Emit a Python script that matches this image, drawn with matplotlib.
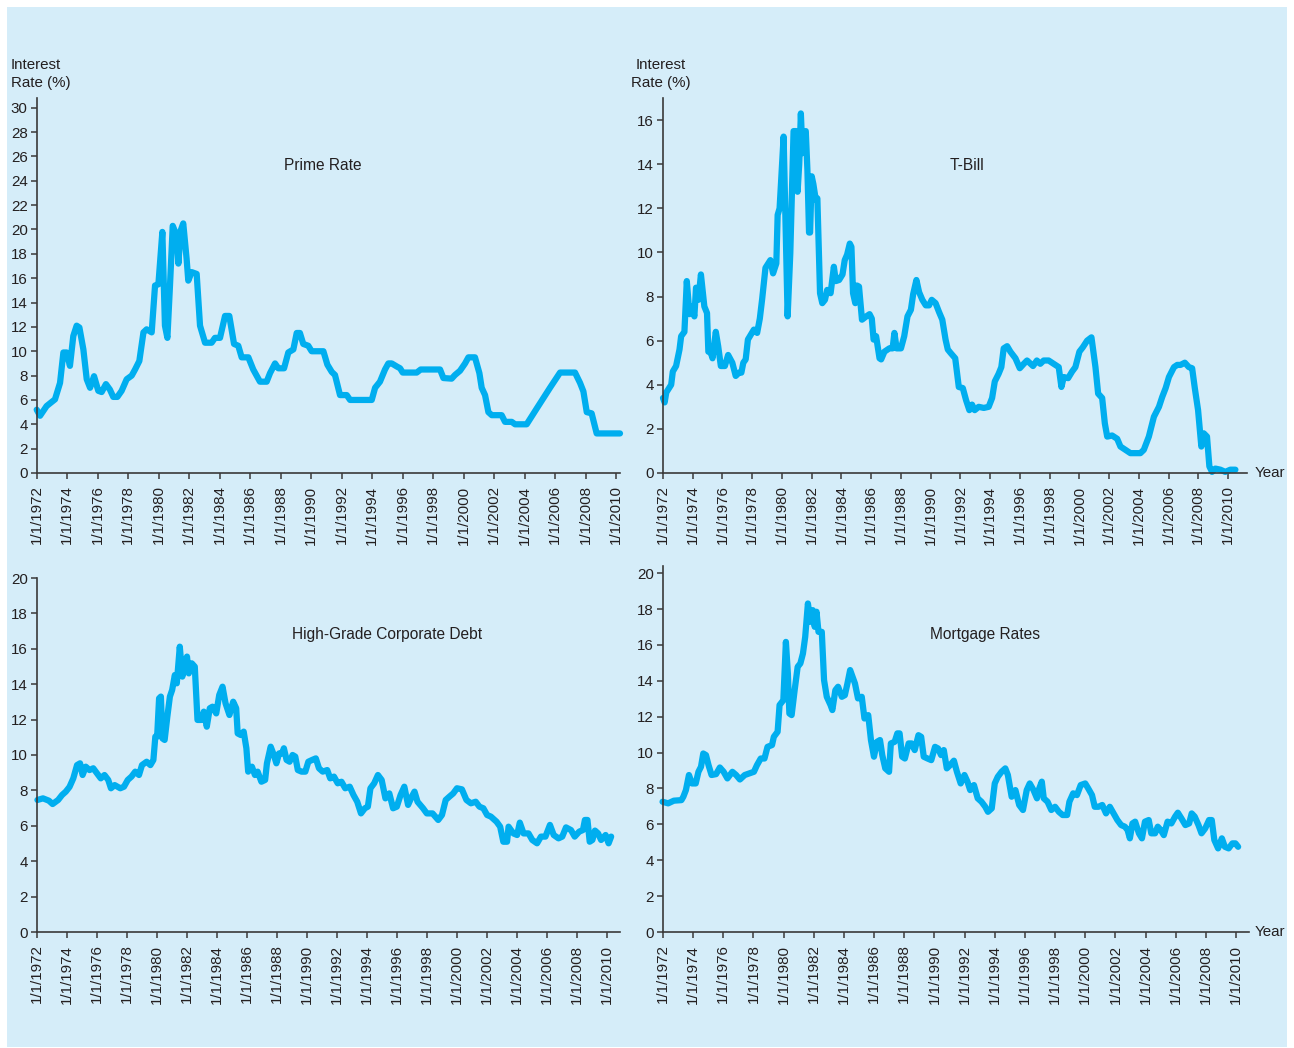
import matplotlib
matplotlib.use('Agg')
import matplotlib.pyplot as plt
from matplotlib.patches import Rectangle

plt.rcParams['font.family'] = ['Liberation Sans', 'DejaVu Sans']

# ---------------- data ----------------
prime_years = [1972.0, 1972.22, 1972.65, 1973.2, 1973.53, 1973.75, 1973.96, 1974.18, 1974.4, 1974.62,
               1974.8, 1975.06, 1975.28, 1975.5, 1975.76, 1976.04, 1976.26, 1976.54, 1976.8, 1977.02,
               1977.29, 1977.57, 1977.9, 1978.23, 1978.45, 1978.73, 1979.0, 1979.21, 1979.54, 1979.76,
               1979.98, 1980.24, 1980.41, 1980.57, 1980.74, 1980.92, 1981.18, 1981.29, 1981.44, 1981.61,
               1981.83, 1981.94, 1982.16, 1982.49, 1982.71, 1983.04, 1983.47, 1983.69, 1984.02, 1984.35,
               1984.63, 1984.94, 1985.22, 1985.44, 1985.88, 1986.2, 1986.64, 1987.08, 1987.3, 1987.63,
               1987.84, 1988.22, 1988.5, 1988.83, 1989.05, 1989.26, 1989.48, 1989.81, 1990.03, 1990.8,
               1991.06, 1991.35, 1991.56, 1991.89, 1992.33, 1992.55, 1993.97, 1994.19, 1994.51, 1994.84,
               1995.06, 1995.28, 1995.61, 1995.83, 1996.0, 1996.92, 1997.18, 1998.45, 1998.67, 1999.21,
               1999.43, 1999.76, 2000.09, 2000.31, 2000.74, 2001.03, 2001.18, 2001.4, 2001.62, 2001.84,
               2002.49, 2002.71, 2003.15, 2003.37, 2004.13, 2004.79, 2005.66, 2006.32, 2007.3, 2007.63,
               2007.85, 2008.07, 2008.39, 2008.72, 2010.25]
prime_rates = [5.2, 4.7, 5.5, 6.05, 7.4, 9.9, 9.9, 8.8, 11.25, 12.1,
               11.95, 10.15, 7.7, 7.0, 7.95, 6.75, 6.65, 7.3, 6.85, 6.25,
               6.25, 6.75, 7.7, 8.0, 8.5, 9.2, 11.55, 11.8, 11.55, 15.4,
               15.5, 19.8, 12.1, 11.1, 15.4, 20.3, 19.5, 17.2, 19.9, 20.5,
               17.6, 15.8, 16.5, 16.35, 12.1, 10.7, 10.7, 11.1, 11.1, 12.9,
               12.9, 10.6, 10.45, 9.5, 9.5, 8.5, 7.5, 7.5, 8.2, 9.0,
               8.6, 8.6, 9.9, 10.15, 11.5, 11.5, 10.6, 10.45, 10.0, 10.0,
               8.9, 8.3, 8.05, 6.4, 6.4, 6.0, 6.0, 7.0, 7.5, 8.5,
               9.0, 9.0, 8.75, 8.6, 8.25, 8.25, 8.5, 8.5, 7.8, 7.75,
               8.05, 8.4, 9.0, 9.5, 9.5, 8.2, 7.0, 6.4, 5.0, 4.75,
               4.75, 4.2, 4.2, 4.0, 4.0, 5.3, 7.0, 8.25, 8.25, 7.4,
               6.7, 5.0, 4.9, 3.25, 3.25]

tbill_years = [1972.0, 1972.11, 1972.22, 1972.55, 1972.66, 1972.88, 1973.11, 1973.22, 1973.44, 1973.6,
               1973.78, 1973.93, 1974.11, 1974.22, 1974.38, 1974.55, 1974.78, 1974.96, 1975.05, 1975.22,
               1975.33, 1975.55, 1975.71, 1975.89, 1976.16, 1976.38, 1976.66, 1976.89, 1977.11, 1977.27,
               1977.4, 1977.56, 1977.71, 1977.89, 1978.11, 1978.33, 1978.51, 1978.67, 1978.89, 1979.22,
               1979.4, 1979.62, 1979.71, 1979.84, 1980.11, 1980.38, 1980.56, 1980.78, 1980.96, 1981.05,
               1981.16, 1981.27, 1981.38, 1981.49, 1981.6, 1981.71, 1981.82, 1981.89, 1982.0, 1982.11,
               1982.27, 1982.38, 1982.56, 1982.71, 1982.89, 1983.04, 1983.27, 1983.49, 1983.62, 1983.84,
               1984.07, 1984.22, 1984.38, 1984.56, 1984.67, 1984.78, 1984.93, 1985.04, 1985.18, 1985.38,
               1985.67, 1985.89, 1986.04, 1986.16, 1986.33, 1986.56, 1986.67, 1986.89, 1987.22, 1987.44,
               1987.56, 1987.71, 1988.0, 1988.22, 1988.44, 1988.67, 1988.82, 1989.04, 1989.22, 1989.44,
               1989.67, 1989.89, 1990.07, 1990.33, 1990.56, 1990.78, 1991.0, 1991.15, 1991.33, 1991.65,
               1991.89, 1992.16, 1992.38, 1992.6, 1992.78, 1992.96, 1993.23, 1993.57, 1993.9, 1994.13,
               1994.31, 1994.57, 1994.75, 1994.91, 1995.14, 1995.36, 1995.7, 1995.99, 1996.26, 1996.48,
               1996.88, 1997.14, 1997.37, 1997.6, 1997.93, 1998.27, 1998.61, 1998.79, 1998.95, 1999.24,
               1999.51, 1999.73, 2000.0, 2000.23, 2000.52, 2000.81, 2001.08, 2001.26, 2001.53, 2001.71,
               2001.87, 2002.2, 2002.54, 2002.76, 2003.1, 2003.43, 2004.1, 2004.33, 2004.67, 2005.01,
               2005.35, 2005.57, 2005.8, 2006.02, 2006.36, 2006.58, 2006.8, 2007.09, 2007.36, 2007.58,
               2007.76, 2007.98, 2008.2, 2008.36, 2008.58, 2008.74, 2008.92, 2009.14, 2009.48, 2009.81,
               2010.15, 2010.49]
tbill_rates = [3.4, 3.2, 3.65, 4.0, 4.6, 4.85, 5.6, 6.2, 6.4, 8.7,
               7.2, 7.55, 7.1, 8.4, 7.85, 9.0, 7.55, 7.25, 5.5, 5.45,
               5.2, 6.4, 5.75, 4.85, 4.85, 5.35, 5.0, 4.4, 4.55, 4.55,
               5.0, 5.15, 6.05, 6.25, 6.5, 6.35, 7.0, 7.9, 9.3, 9.65,
               9.05, 9.5, 11.7, 12.0, 15.25, 7.1, 9.97, 15.5, 15.5, 12.75,
               14.0, 16.3, 14.5, 15.4, 15.5, 13.75, 10.9, 10.9, 13.45, 13.1,
               12.4, 12.45, 8.15, 7.7, 7.85, 8.3, 8.15, 9.35, 8.7, 8.75,
               9.0, 9.65, 9.9, 10.4, 10.25, 8.15, 7.7, 8.5, 8.45, 6.95,
               7.1, 7.2, 7.0, 6.05, 6.2, 5.2, 5.15, 5.5, 5.65, 5.65,
               6.35, 5.65, 5.65, 6.2, 7.1, 7.4, 8.1, 8.75, 8.2, 7.85,
               7.6, 7.6, 7.85, 7.7, 7.3, 6.95, 6.05, 5.6, 5.45, 5.2,
               3.9, 3.85, 3.3, 2.85, 3.1, 2.85, 3.0, 2.95, 3.0, 3.4,
               4.15, 4.5, 4.8, 5.65, 5.75, 5.5, 5.2, 4.75, 4.95, 5.1,
               4.85, 5.1, 4.95, 5.1, 5.1, 4.95, 4.8, 3.9, 4.35, 4.3,
               4.6, 4.8, 5.5, 5.7, 6.0, 6.15, 4.8, 3.6, 3.4, 2.25,
               1.65, 1.7, 1.55, 1.2, 1.05, 0.9, 0.9, 1.05, 1.65, 2.55,
               3.0, 3.45, 3.85, 4.35, 4.8, 4.9, 4.9, 5.0, 4.8, 4.75,
               3.85, 2.85, 1.2, 1.8, 1.65, 0.3, 0.05, 0.2, 0.15, 0.05,
               0.15, 0.15]

corp_years = [1972.03, 1972.4, 1972.79, 1973.04, 1973.41, 1973.67, 1973.92, 1974.17, 1974.42, 1974.67,
              1974.87, 1975.04, 1975.25, 1975.5, 1975.75, 1976.0, 1976.25, 1976.5, 1976.75, 1976.93,
              1977.18, 1977.55, 1977.8, 1978.05, 1978.3, 1978.55, 1978.8, 1979.0, 1979.31, 1979.56,
              1979.76, 1979.89, 1980.01, 1980.14, 1980.26, 1980.36, 1980.51, 1980.69, 1980.86, 1981.01,
              1981.19, 1981.32, 1981.52, 1981.69, 1981.82, 1982.0, 1982.12, 1982.32, 1982.52, 1982.7,
              1982.95, 1983.12, 1983.32, 1983.52, 1983.7, 1983.95, 1984.15, 1984.37, 1984.57, 1984.83,
              1985.08, 1985.28, 1985.38, 1985.58, 1985.78, 1985.96, 1986.08, 1986.33, 1986.53, 1986.71,
              1986.96, 1987.21, 1987.33, 1987.58, 1987.79, 1987.96, 1988.14, 1988.34, 1988.46, 1988.64,
              1988.84, 1989.04, 1989.22, 1989.39, 1989.64, 1989.89, 1990.09, 1990.34, 1990.59, 1990.8,
              1991.05, 1991.35, 1991.55, 1991.8, 1992.05, 1992.3, 1992.55, 1992.85, 1993.1, 1993.35,
              1993.6, 1993.86, 1994.06, 1994.23, 1994.48, 1994.73, 1994.98, 1995.23, 1995.49, 1995.74,
              1995.99, 1996.24, 1996.49, 1996.74, 1996.99, 1997.17, 1997.37, 1997.74, 1997.99, 1998.37,
              1998.75, 1999.0, 1999.25, 1999.5, 1999.75, 2000.0, 2000.33, 2000.63, 2000.93, 2001.25,
              2001.5, 2001.76, 2002.01, 2002.26, 2002.64, 2002.88, 2003.09, 2003.34, 2003.44, 2003.76,
              2004.01, 2004.19, 2004.44, 2004.77, 2005.02, 2005.34, 2005.6, 2005.9, 2006.2, 2006.45,
              2006.77, 2007.02, 2007.27, 2007.6, 2007.85, 2008.15, 2008.4, 2008.53, 2008.7, 2008.85,
              2009.03, 2009.2, 2009.41, 2009.61, 2009.91, 2010.11, 2010.28]
corp_rates = [7.46, 7.55, 7.42, 7.23, 7.46, 7.74, 7.93, 8.2, 8.68, 9.43,
              9.53, 8.87, 9.34, 9.15, 9.25, 8.96, 8.68, 8.87, 8.59, 8.12,
              8.3, 8.12, 8.21, 8.59, 8.78, 9.06, 8.87, 9.43, 9.62, 9.43,
              9.72, 11.04, 11.04, 13.2, 13.3, 10.94, 10.85, 12.17, 13.3, 13.67,
              14.52, 14.05, 16.12, 14.43, 14.99, 15.56, 14.61, 15.18, 14.99, 11.98,
              11.98, 12.45, 11.6, 12.64, 12.73, 12.35, 13.39, 13.86, 12.92, 12.26,
              13.01, 12.64, 11.22, 11.13, 11.32, 10.38, 9.06, 9.34, 8.87, 9.06,
              8.49, 8.59, 9.53, 10.47, 10.0, 9.53, 10.09, 10.09, 10.38, 9.72,
              9.62, 10.0, 9.91, 9.15, 9.06, 9.06, 9.62, 9.72, 9.81, 9.25,
              9.06, 9.15, 8.68, 8.78, 8.4, 8.49, 8.12, 8.21, 7.74, 7.36,
              6.7, 6.99, 7.08, 8.12, 8.4, 8.87, 8.59, 7.55, 7.83, 6.99,
              7.08, 7.74, 8.21, 7.18, 7.65, 7.93, 7.36, 6.99, 6.7, 6.7,
              6.33, 6.61, 7.46, 7.65, 7.83, 8.12, 8.06, 7.46, 7.27, 7.36,
              7.08, 6.99, 6.61, 6.52, 6.23, 5.95, 5.1, 5.1, 5.95, 5.57,
              5.48, 6.18, 5.57, 5.57, 5.2, 5.01, 5.39, 5.39, 6.05, 5.48,
              5.29, 5.39, 5.91, 5.76, 5.39, 5.67, 5.76, 6.33, 6.33, 5.1,
              5.2, 5.73, 5.57, 5.2, 5.48, 5.01, 5.39]

mort_years = [1971.97, 1972.34, 1972.72, 1973.22, 1973.35, 1973.52, 1973.72, 1973.92, 1974.17, 1974.35,
              1974.52, 1974.67, 1974.85, 1975.02, 1975.22, 1975.52, 1975.77, 1976.02, 1976.27, 1976.6,
              1976.85, 1977.1, 1977.42, 1977.73, 1978.03, 1978.23, 1978.48, 1978.73, 1978.93, 1979.23,
              1979.35, 1979.6, 1979.73, 1979.98, 1980.15, 1980.28, 1980.38, 1980.53, 1980.73, 1980.93,
              1981.11, 1981.28, 1981.43, 1981.61, 1981.78, 1981.93, 1982.06, 1982.18, 1982.31, 1982.53,
              1982.68, 1982.86, 1983.11, 1983.23, 1983.43, 1983.61, 1983.86, 1984.06, 1984.23, 1984.41,
              1984.53, 1984.73, 1984.93, 1985.18, 1985.36, 1985.61, 1985.79, 1985.99, 1986.19, 1986.39,
              1986.54, 1986.74, 1986.99, 1987.11, 1987.36, 1987.54, 1987.69, 1987.86, 1988.04, 1988.29,
              1988.49, 1988.69, 1988.94, 1989.12, 1989.29, 1989.54, 1989.79, 1990.04, 1990.24, 1990.44,
              1990.62, 1990.82, 1991.04, 1991.29, 1991.49, 1991.74, 1991.99, 1992.19, 1992.37, 1992.62,
              1992.87, 1993.12, 1993.37, 1993.55, 1993.8, 1994.0, 1994.2, 1994.45, 1994.7, 1994.87,
              1995.12, 1995.37, 1995.62, 1995.87, 1996.12, 1996.32, 1996.57, 1996.8, 1996.95, 1997.12,
              1997.25, 1997.5, 1997.75, 1998.0, 1998.25, 1998.5, 1998.8, 1998.95, 1999.2, 1999.45,
              1999.7, 2000.0, 2000.2, 2000.45, 2000.63, 2000.88, 2001.13, 2001.38, 2001.63, 2001.88,
              2002.13, 2002.38, 2002.63, 2002.81, 2002.96, 2003.13, 2003.31, 2003.56, 2003.76, 2003.96,
              2004.21, 2004.38, 2004.63, 2004.81, 2005.01, 2005.21, 2005.46, 2005.71, 2005.96, 2006.14,
              2006.38, 2006.64, 2006.89, 2007.06, 2007.26, 2007.51, 2007.71, 2007.96, 2008.21, 2008.39,
              2008.56, 2008.81, 2009.06, 2009.26, 2009.51, 2009.76, 2009.96, 2010.14]
mort_rates = [7.26, 7.17, 7.32, 7.35, 7.54, 7.91, 8.75, 8.28, 8.28, 8.93,
              9.21, 9.95, 9.86, 9.3, 8.75, 8.8, 9.17, 8.93, 8.56, 8.93,
              8.75, 8.5, 8.75, 8.84, 8.93, 9.3, 9.67, 9.67, 10.32, 10.42,
              10.88, 11.16, 12.65, 12.92, 16.17, 14.41, 12.18, 12.09, 13.48, 14.78,
              14.97, 15.52, 16.45, 18.31, 17.29, 17.94, 17.01, 17.85, 16.73, 16.73,
              14.04, 13.11, 12.65, 12.37, 13.48, 13.67, 13.11, 13.2, 13.85, 14.6,
              14.32, 13.85, 13.02, 13.11, 11.9, 12.09, 10.7, 9.77, 10.6, 10.7,
              9.86, 9.12, 8.93, 10.51, 10.6, 11.07, 11.07, 9.77, 9.67, 10.51,
              10.51, 10.14, 10.97, 10.88, 9.77, 9.67, 9.58, 10.32, 10.23, 9.86,
              10.14, 9.12, 9.3, 9.55, 8.93, 8.28, 8.75, 8.38, 7.91, 8.19,
              7.45, 7.26, 6.98, 6.7, 6.89, 8.28, 8.65, 8.93, 9.12, 8.75,
              7.54, 7.91, 7.08, 6.8, 7.91, 8.28, 7.91, 7.45, 8.0, 8.38,
              7.45, 7.26, 6.8, 6.98, 6.7, 6.52, 6.52, 7.26, 7.73, 7.63,
              8.19, 8.28, 8.0, 7.63, 6.98, 6.98, 7.08, 6.61, 6.98, 6.61,
              6.24, 5.96, 5.87, 5.68, 5.22, 6.05, 6.15, 5.5, 5.22, 6.15,
              6.24, 5.5, 5.5, 5.87, 5.68, 5.4, 6.15, 6.05, 6.43, 6.65,
              6.33, 5.96, 6.05, 6.61, 6.43, 5.96, 5.5, 5.78, 6.24, 6.24,
              5.13, 4.66, 5.22, 4.75, 4.66, 4.94, 4.94, 4.75]

tick_years = list(range(1972, 2011, 2))
tick_labels = ['1/1/%d' % y for y in tick_years]

panel_titles = ['Prime Rate', 'T-Bill', 'High-Grade Corporate Debt', 'Mortgage Rates']

# ---------------- styling ----------------
W, H = 1294, 1048
BG = '#d5edf9'
LINE = '#00aeef'
INK = '#231f20'
FS = 10.9

fig = plt.figure(figsize=(W / 100, H / 100), dpi=100)
fig.patch.set_facecolor('white')
fig.add_artist(Rectangle((7 / W, 1 - 1047 / H), (1287 - 7) / W, (1047 - 7) / H,
                         transform=fig.transFigure, facecolor=BG, edgecolor='none', zorder=-5))


def px_axes(left, top, right, bottom):
    return fig.add_axes([left / W, 1 - bottom / H, (right - left) / W, (bottom - top) / H])


def style(ax, xmax, ymax, ystep, ymaxtick):
    ax.set_facecolor('none')
    for s in ('top', 'right'):
        ax.spines[s].set_visible(False)
    for s in ('left', 'bottom'):
        ax.spines[s].set_color('#3a3a3a')
        ax.spines[s].set_linewidth(1.2)
    ax.set_xlim(1972, xmax)
    ax.set_ylim(0, ymax)
    ax.set_xticks(tick_years)
    ax.set_xticklabels(tick_labels, rotation=90, fontsize=FS, color=INK)
    ax.set_yticks(list(range(0, ymaxtick + 1, ystep)))
    ax.tick_params(axis='y', length=4, width=1.1, color='#3a3a3a', pad=2.5, labelsize=FS, labelcolor=INK)
    ax.tick_params(axis='x', length=4, width=1.1, color='#3a3a3a', pad=5, labelsize=FS, labelcolor=INK)


def draw(ax, xs, ys):
    ax.plot(xs, ys, color=LINE, lw=4.5, solid_joinstyle='round', solid_capstyle='round', clip_on=False)


ax1 = px_axes(36.7, 98, 620, 473)
style(ax1, 2010.25, 30.8, 2, 30)
draw(ax1, prime_years, prime_rates)

ax2 = px_axes(663, 98, 1247, 473)
style(ax2, 2011.27, 17.0, 2, 16)
draw(ax2, tbill_years, tbill_rates)

ax3 = px_axes(37, 578, 620, 932)
style(ax3, 2010.87, 20.0, 2, 20)
draw(ax3, corp_years, corp_rates)

ax4 = px_axes(663, 566, 1249, 932)
style(ax4, 2010.86, 20.4, 2, 20)
draw(ax4, mort_years, mort_rates)


def ftext(x, y, s, **kw):
    fig.text(x / W, 1 - y / H, s, color=INK, **kw)


ftext(11, 74, 'Interest\nRate (%)', ha='left', va='center', fontsize=FS, linespacing=1.45)
ftext(661, 74, 'Interest\nRate (%)', ha='center', va='center', fontsize=FS, linespacing=1.45, multialignment='center')
ftext(323, 165, panel_titles[0], ha='center', va='center', fontsize=11.2)
ftext(967, 165, panel_titles[1], ha='center', va='center', fontsize=11.2)
ftext(387, 635, panel_titles[2], ha='center', va='center', fontsize=11.2)
ftext(985, 635, panel_titles[3], ha='center', va='center', fontsize=11.2)
ftext(1255, 473, 'Year', ha='left', va='center', fontsize=FS)
ftext(1255, 932, 'Year', ha='left', va='center', fontsize=FS)

fig.savefig('out.png', dpi=100, facecolor='white')
